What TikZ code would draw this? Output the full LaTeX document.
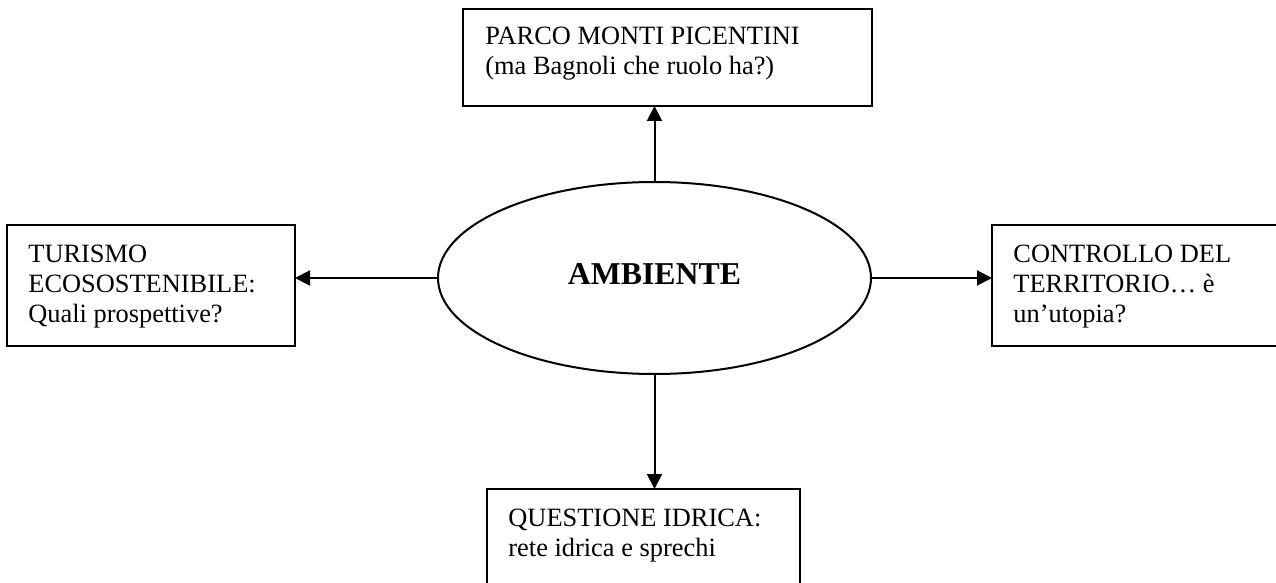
\documentclass[tikz,border=0pt]{standalone}
\usepackage{fontspec}
\setmainfont{Liberation Serif}
\usetikzlibrary{shapes.geometric,arrows.meta}

\tikzset{
  riquadro/.style={draw, line width=1pt, rectangle, inner sep=0pt, outer sep=0pt, anchor=north west},
  testo/.style={anchor=base west, align=left, inner sep=0pt, font=\fontsize{13.2}{15}\selectfont},
  freccia/.style={line width=1pt, -{Triangle[length=7.5pt,width=7.5pt]}}
}

\begin{document}
\begin{tikzpicture}[x=0.5pt,y=0.5pt,yscale=-1,xscale=1]
\useasboundingbox (0,0) rectangle (1276,583);
% Ellipse
\node [ellipse, draw, line width=1pt, outer sep=0pt, inner sep=0pt, minimum width=216.5pt, minimum height=96pt, text depth=3.5pt, font=\fontsize{15.9}{18}\selectfont\bfseries] (amb) at (654.5,278) {AMBIENTE};
% Boxes
\node [riquadro, minimum width=204.5pt, minimum height=48.5pt] (parco) at (463,9) {};
\node [riquadro, minimum width=144pt, minimum height=60.5pt] (turismo) at (7,225) {};
\node [riquadro, minimum width=154pt, minimum height=60.5pt] (controllo) at (992,225) {};
\node [riquadro, minimum width=156.5pt, minimum height=55.5pt] (idrica) at (487,489) {};
% Text Node (base = last line)
\node [testo] (parcotxt) at (485,75) {PARCO MONTI PICENTINI\\(ma Bagnoli che ruolo ha?)};
% Text Node
\node [testo] (turismotxt) at (28,322) {TURISMO\\ECOSOSTENIBILE:\\Quali prospettive?};
% Text Node
\node [testo] (controllotxt) at (1013,322) {CONTROLLO DEL\\TERRITORIO… è\\un’utopia?};
% Text Node
\node [testo] (idricatxt) at (508,556) {QUESTIONE IDRICA:\\rete idrica e sprechi};
%Straight Lines
\draw [freccia] (amb.north) -- (amb.north |- parco.south);
\draw [freccia] (amb.west) -- (amb.west -| turismo.east);
\draw [freccia] (amb.east) -- (amb.east -| controllo.west);
\draw [freccia] (amb.south) -- (amb.south |- idrica.north);
\end{tikzpicture}
\end{document}
